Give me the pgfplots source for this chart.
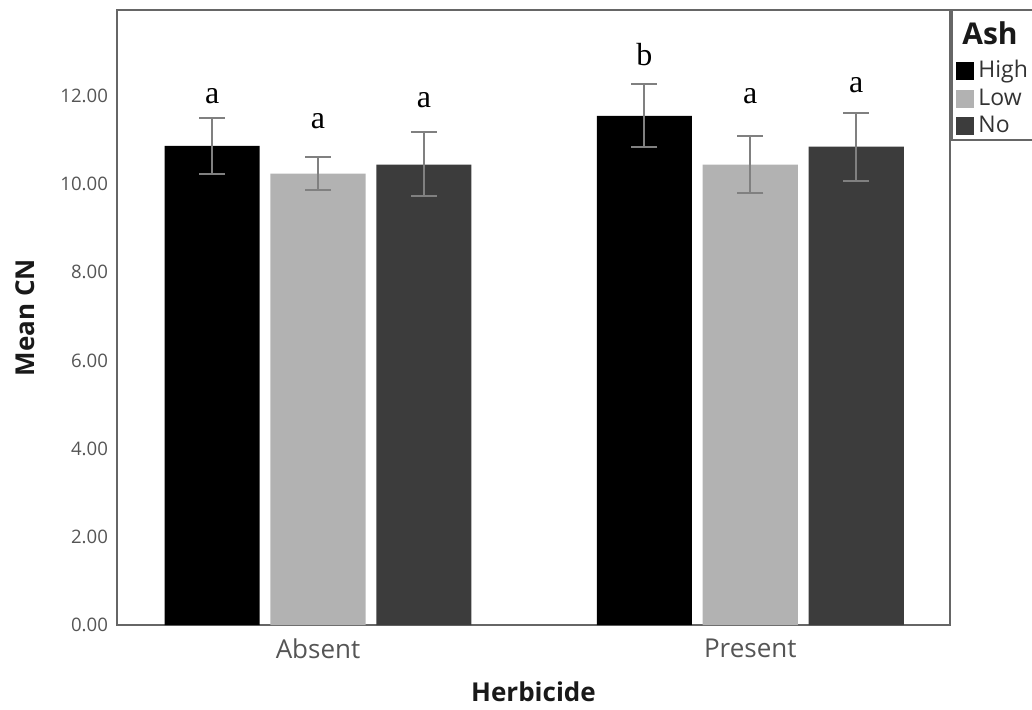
\documentclass[border=0pt]{standalone}
\usepackage{pgfplots}
\pgfplotsset{compat=1.18}
\usepackage{pgfplotstable}
\usepackage{fontspec}
\setmainfont{Open Sans}
\newfontfamily\seriffont{Liberation Serif}
\definecolor{lowc}{HTML}{B2B2B2}
\definecolor{noc}{HTML}{3C3C3C}
\definecolor{errc}{HTML}{808080}
\definecolor{axc}{HTML}{666666}
\definecolor{txc}{HTML}{555555}

\pgfplotstableread{
x y ep em
0 10.87 0.62 0.65
1 11.55 0.73 0.70
}\high
\pgfplotstableread{
x y ep em
0 10.24 0.38 0.37
1 10.44 0.65 0.63
}\low
\pgfplotstableread{
x y ep em
0 10.44 0.74 0.72
1 10.85 0.77 0.78
}\no

\begin{document}
\begin{tikzpicture}
\path[use as bounding box] (-58.5pt,-42pt) rectangle (457.5pt,312.5pt);
\begin{axis}[
  at={(0,0)}, anchor=south west,
  scale only axis, width=416.5pt, height=307.5pt,
  xmin=-0.465, xmax=1.462, ymin=0, ymax=13.95,
  ybar, bar width=0.22,
  clip=false,
  xtick={0,1}, xticklabels={Absent,Present},
  ytick={0,2,...,12},
  yticklabel={\pgfmathprintnumber[fixed,fixed zerofill,precision=2]{\tick}},
  /pgf/number format/assume math mode=true,
  major tick length=0pt,
  axis line style={axc, line width=0.9pt},
  yticklabel style={font=\fontsize{9.3}{10}\selectfont, text=txc, xshift=-1pt},
  xticklabel style={font=\fontsize{13}{15}\selectfont, text=txc, yshift=-3.5pt},
  xlabel={Herbicide}, ylabel={Mean CN},
  label style={font=\bfseries\fontsize{13}{15}\selectfont, text=black!90},
  xlabel style={at={(axis description cs:0.5,-0.109)}, anchor=center},
  ylabel style={at={(axis description cs:-0.1105,0.5)}, anchor=center},
  legend style={at={(axis description cs:1,1)}, anchor=north west, xshift=2pt, yshift=-22pt,
    draw=none, fill=none, font=\fontsize{11.5}{12.5}\selectfont, text=black!80,
    inner sep=1pt, row sep=0pt, /tikz/every even column/.append style={column sep=1pt}},
  legend cell align=left,
  legend image code/.code={\fill[#1] (0pt,-4.5pt) rectangle (9pt,4.5pt);},
  error bars/y dir=both, error bars/y explicit,
  error bars/error bar style={errc, line width=1pt},
  error bars/error mark options={rotate=90, mark size=6.5pt, errc, line width=1pt},
]
\addplot[fill=black, draw=none, bar shift=-0.245] table[x=x, y=y, y error plus=ep, y error minus=em]{\high};
\addplot[fill=lowc, draw=none, bar shift=0] table[x=x, y=y, y error plus=ep, y error minus=em]{\low};
\addplot[fill=noc, draw=none, bar shift=0.245] table[x=x, y=y, y error plus=ep, y error minus=em]{\no};
\legend{High,Low,No}
\draw[axc, line width=0.9pt] ([xshift=1pt]rel axis cs:1,1) rectangle ++(60pt,-65pt);
\node[font=\bfseries\fontsize{15}{17}\selectfont, text=black!90] at ([xshift=20pt,yshift=-11.5pt]rel axis cs:1,1) {Ash};
\begin{scope}[every node/.style={anchor=base, font=\seriffont\fontsize{16}{18}\selectfont}]
\node at (axis cs:-0.245,11.82) {a};
\node at (axis cs:0,11.27) {a};
\node at (axis cs:0.245,11.73) {a};
\node at (axis cs:0.755,12.70) {b};
\node at (axis cs:1,11.84) {a};
\node at (axis cs:1.245,12.07) {a};
\end{scope}
\end{axis}
\end{tikzpicture}
\end{document}
